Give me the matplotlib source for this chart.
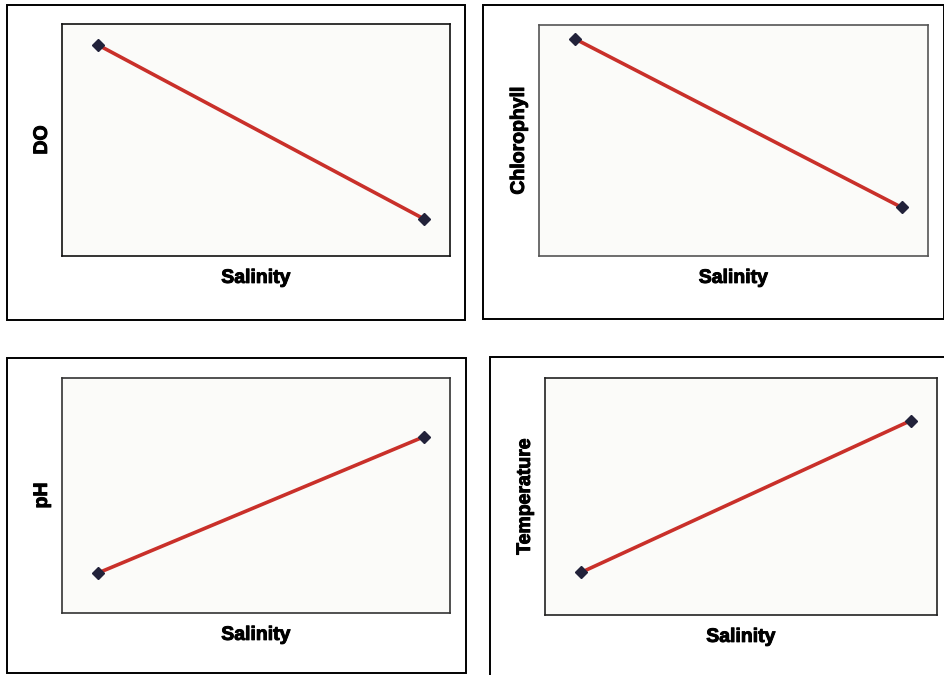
import matplotlib
matplotlib.use("Agg")
import matplotlib.pyplot as plt
import matplotlib.patheffects as pe
from matplotlib.patches import Rectangle

# two sampling stations along the salinity gradient (relative units)
salinity = [1.0, 2.0]
do_vals = [0.91, 0.16]
chl_vals = [0.94, 0.21]
ph_vals = [0.17, 0.75]
temp_vals = [0.18, 0.82]

W, H = 945, 675
fig = plt.figure(figsize=(W / 100, H / 100), dpi=100)
fig.patch.set_facecolor("white")
plt.rcParams['font.family'] = ['Liberation Sans', 'DejaVu Sans']

# heavier lettering for the axis titles
heavy = [pe.withStroke(linewidth=0.7, foreground="black")]


def px_box(x0, y0, x1, y1):
    # pixel box (top-left origin) -> figure fraction rect
    return [x0 / W, 1 - y1 / H, (x1 - x0) / W, (y1 - y0) / H]


def frame(x0, y0, x1, y1):
    r = Rectangle((x0 / W, 1 - y1 / H), (x1 - x0) / W, (y1 - y0) / H,
                  transform=fig.transFigure, fill=False, ec="black", lw=1.4)
    fig.add_artist(r)


def panel(box, yvals, ylabel, edge):
    ax = fig.add_axes(px_box(*box))
    ax.set_facecolor("#fbfbf9")
    ax.plot(salinity, yvals, color="#c9302a", lw=2.6, zorder=2)
    ax.plot(salinity, yvals, ls="none", marker="D", ms=6,
            mfc="#22223a", mec="#22223a", zorder=3)
    ax.set_xlim(0.89, 2.08)
    ax.set_ylim(0, 1)
    ax.set_xticks([])
    ax.set_yticks([])
    for s in ax.spines.values():
        s.set_color(edge)
        s.set_linewidth(1.2)
    ax.set_xlabel("Salinity", fontsize=14, fontweight="bold", labelpad=10,
                  path_effects=heavy)
    ax.set_ylabel(ylabel, fontsize=14, fontweight="bold", labelpad=8,
                  path_effects=heavy)
    return ax


# outer boxes around each graph
frame(7, 5, 465, 320)
frame(483, 5, 944, 319)
frame(7, 358, 466, 673)
frame(490, 357, 960, 690)

panel((62, 24, 450, 256), do_vals, "DO", "#111111")
panel((539, 25, 928, 256), chl_vals, "Chlorophyll", "#555555")
panel((62, 378, 450, 613), ph_vals, "pH", "#333333")
panel((545, 378, 937, 615), temp_vals, "Temperature", "#222222")

fig.savefig("out.png", dpi=100, facecolor="white")
